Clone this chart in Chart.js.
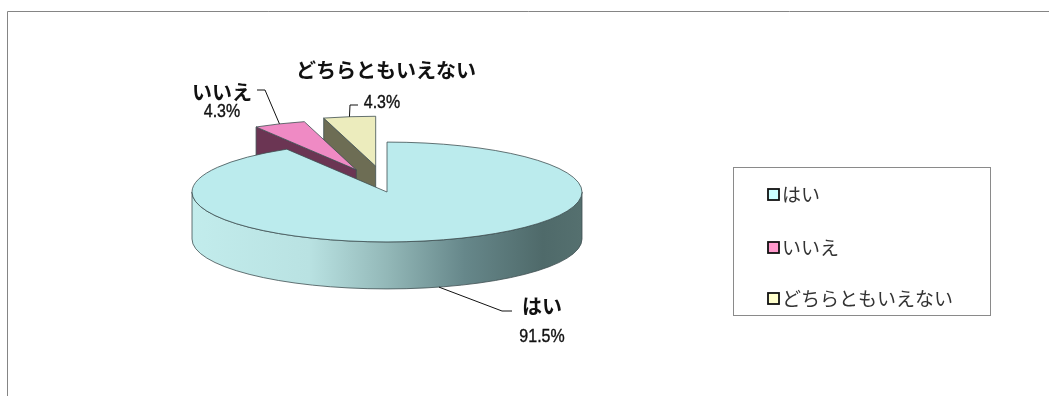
<!DOCTYPE html>
<html>
<head>
<meta charset="utf-8">
<script src="https://cdn.jsdelivr.net/npm/chart.js@4.4.1/dist/chart.umd.min.js"></script>
<style>
  html, body { margin: 0; padding: 0; background: #fff; }
  #wrap { position: relative; width: 1049px; height: 396px; }
</style>
</head>
<body>
<div id="wrap"><canvas id="pie" width="1049" height="396"></canvas></div>
<script>
// survey answers
const labels = ['はい', 'いいえ', 'どちらともいえない'];
const values = [91.5, 4.3, 4.3];

// slice styling
const topColors = ['#bbebed', '#ef8ac4', '#ececbd'];
const sideColors = [null, '#6b3553', '#6d6d54'];
const legendColors = ['#ccffff', '#ff99cc', '#ffffcc'];
const explode = [0, 78, 84];

const TILT = 0.256;        // vertical squash of the pie top
const DEPTH = 47;          // thickness of the pie
const EXPLODE_TILT = 0.31; // squash used for the pulled-out slices

const JP_BOLD = 'bold 20px "Noto Sans CJK JP", sans-serif';
const JP_LEGEND = '19px "Noto Sans CJK JP", sans-serif';
const PCT_FONT = '19px "Liberation Sans", sans-serif';
const PCT_NARROW = 0.84;

// label / leader layout per slice
const callouts = [
  { name: [542, 306], pct: [542, 337], elbow: [[512, 311], [502, 311]], onWall: true },
  { name: [222, 92],  pct: [222, 112], elbow: [[257, 90], [265, 90]] },
  { name: [386, 70],  pct: [382, 103], elbow: [[358, 105], [350, 105]] },
];

function shiftOf(el, i) {
  const m = (el.startAngle + el.endAngle) / 2;
  return { dx: Math.cos(m) * explode[i], dy: Math.sin(m) * explode[i] * EXPLODE_TILT };
}

function rimPoint(el, s, a, down) {
  return {
    x: el.x + s.dx + el.outerRadius * Math.cos(a),
    y: el.y + s.dy + el.outerRadius * TILT * Math.sin(a) + (down || 0)
  };
}

// parts of [a, b] lying on the near (lower) half of the ellipse
function frontRanges(a, b) {
  const out = [];
  for (let k = -1; k <= 1; k++) {
    const lo = Math.max(a, k * 2 * Math.PI), hi = Math.min(b, k * 2 * Math.PI + Math.PI);
    if (hi > lo) out.push([lo, hi]);
  }
  return out;
}

function wallFill(ctx, el, i) {
  if (sideColors[i]) return sideColors[i];
  const R = el.outerRadius;
  const g = ctx.createLinearGradient(el.x - R, 0, el.x + R, 0);
  g.addColorStop(0, '#c2ecec');
  g.addColorStop(0.3, '#b9e2e2');
  g.addColorStop(0.5, '#93b8b8');
  g.addColorStop(0.7, '#66878a');
  g.addColorStop(0.9, '#4f6a6a');
  g.addColorStop(1, '#55706f');
  return g;
}

function radialFace(ctx, el, s, a, fill) {
  const cx = el.x + s.dx, cy = el.y + s.dy;
  const p = rimPoint(el, s, a);
  ctx.beginPath();
  ctx.moveTo(cx, cy);
  ctx.lineTo(p.x, p.y);
  ctx.lineTo(p.x, p.y + DEPTH);
  ctx.lineTo(cx, cy + DEPTH);
  ctx.closePath();
  ctx.fillStyle = fill;
  ctx.fill();
  ctx.stroke();
}

const pie3d = {
  id: 'pie3d',
  beforeDatasetsDraw(chart) {
    const ctx = chart.ctx;
    const arcs = chart.getDatasetMeta(0).data;
    const order = arcs.map((el, i) => i).sort((p, q) => {
      const mp = (arcs[p].startAngle + arcs[p].endAngle) / 2;
      const mq = (arcs[q].startAngle + arcs[q].endAngle) / 2;
      return Math.sin(mp) - Math.sin(mq);
    });

    ctx.save();
    ctx.lineWidth = 0.8;
    ctx.strokeStyle = '#3f4f52';
    ctx.lineJoin = 'round';
    for (const i of order) {
      const el = arcs[i];
      const s = shiftOf(el, i);
      const a = el.startAngle, b = el.endAngle;
      const R = el.outerRadius, cx = el.x + s.dx, cy = el.y + s.dy;
      const fill = wallFill(ctx, el, i);

      // cut faces turned towards the viewer
      if (Math.cos(a) < -1e-6) radialFace(ctx, el, s, a, fill);
      if (Math.cos(b) > 1e-6) radialFace(ctx, el, s, b, fill);

      // outer wall
      for (const [lo, hi] of frontRanges(a, b)) {
        ctx.beginPath();
        ctx.ellipse(cx, cy, R, R * TILT, 0, lo, hi, false);
        ctx.ellipse(cx, cy + DEPTH, R, R * TILT, 0, hi, lo, true);
        ctx.closePath();
        ctx.fillStyle = fill;
        ctx.fill();
        ctx.stroke();
      }

      // top face: the library's arc, squashed
      ctx.save();
      ctx.translate(s.dx, s.dy);
      ctx.translate(el.x, el.y);
      ctx.scale(1, TILT);
      ctx.translate(-el.x, -el.y);
      el.draw(ctx);
      ctx.restore();

      const p = rimPoint(el, s, a);
      ctx.beginPath();
      ctx.moveTo(cx, cy);
      ctx.lineTo(p.x, p.y);
      ctx.ellipse(cx, cy, R, R * TILT, 0, a, b, false);
      ctx.closePath();
      ctx.stroke();
    }
    ctx.restore();
    return false;
  },
  beforeDraw(chart) {
    // outer frame
    const ctx = chart.ctx;
    ctx.save();
    ctx.strokeStyle = '#858585';
    ctx.lineWidth = 1;
    ctx.beginPath();
    ctx.moveTo(7.5, 400);
    ctx.lineTo(7.5, 11.5);
    ctx.lineTo(1060, 11.5);
    ctx.stroke();
    ctx.restore();
  },
  afterDraw(chart) {
    const ctx = chart.ctx;
    const arcs = chart.getDatasetMeta(0).data;
    const ds = chart.data.datasets[0];
    ctx.save();

    // callouts
    arcs.forEach((el, i) => {
      const c = callouts[i];
      const s = shiftOf(el, i);
      const m = (el.startAngle + el.endAngle) / 2;
      const end = rimPoint(el, s, m, c.onWall ? DEPTH : 0);
      ctx.strokeStyle = '#111';
      ctx.lineWidth = 1;
      ctx.beginPath();
      ctx.moveTo(c.elbow[0][0], c.elbow[0][1]);
      ctx.lineTo(c.elbow[1][0], c.elbow[1][1]);
      ctx.lineTo(end.x, end.y);
      ctx.stroke();

      ctx.fillStyle = '#111';
      ctx.textAlign = 'center';
      ctx.textBaseline = 'middle';
      ctx.font = JP_BOLD;
      ctx.fillText(chart.data.labels[i], c.name[0], c.name[1]);

      ctx.save();
      ctx.translate(c.pct[0], c.pct[1]);
      ctx.scale(PCT_NARROW, 1);
      ctx.font = PCT_FONT;
      ctx.fillText(ds.data[i].toFixed(1) + '%', 0, 0);
      ctx.strokeStyle = '#111';
      ctx.lineWidth = 0.4;
      ctx.strokeText(ds.data[i].toFixed(1) + '%', 0, 0);
      ctx.restore();
    });

    // legend box
    ctx.strokeStyle = '#8a8a8a';
    ctx.lineWidth = 1;
    ctx.strokeRect(733.5, 167.5, 257, 148);
    ctx.font = JP_LEGEND;
    ctx.textAlign = 'left';
    ctx.textBaseline = 'middle';
    const rows = [194, 247, 298];
    chart.data.labels.forEach((lab, i) => {
      ctx.fillStyle = legendColors[i];
      ctx.fillRect(768, rows[i] - 5, 11, 11);
      ctx.strokeStyle = '#111';
      ctx.lineWidth = 1.8;
      ctx.strokeRect(768, rows[i] - 5, 11, 11);
      ctx.fillStyle = '#333';
      ctx.fillText(lab, 782, rows[i] + 1);
    });
    ctx.restore();
  }
};

new Chart(document.getElementById('pie'), {
  type: 'pie',
  data: {
    labels: labels,
    datasets: [{
      data: values,
      backgroundColor: topColors,
      borderWidth: 0,
      offset: 0
    }]
  },
  options: {
    responsive: false,
    animation: false,
    devicePixelRatio: 1,
    radius: 195,
    rotation: 0,
    layout: { padding: { left: 0, right: 275, top: 0, bottom: 12 } },
    plugins: {
      legend: { display: false },
      tooltip: { enabled: false }
    }
  },
  plugins: [pie3d]
});
</script>
</body>
</html>
